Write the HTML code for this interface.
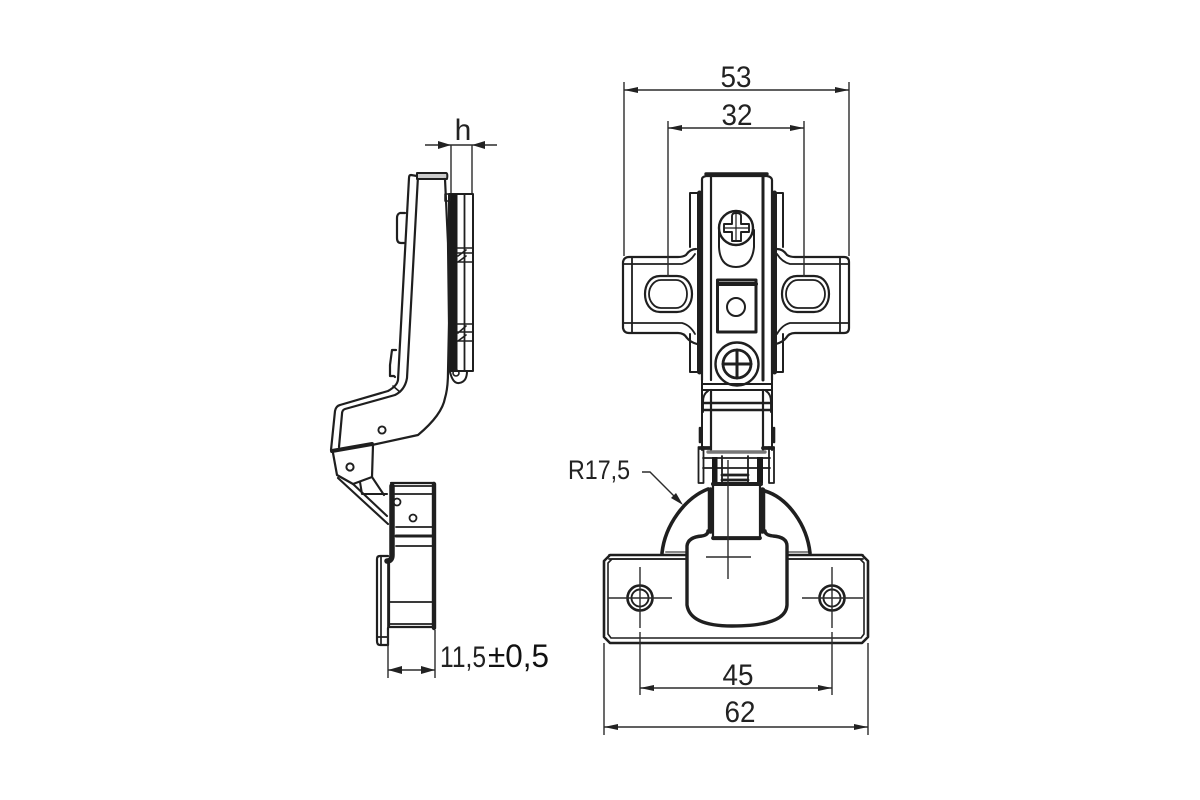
<!DOCTYPE html>
<html><head><meta charset="utf-8"><style>
html,body{margin:0;padding:0;background:#fff}
svg{display:block}
text{font-family:"Liberation Sans",sans-serif;fill:#222}
</style></head><body>
<svg width="1200" height="800" viewBox="0 0 1200 800" xmlns="http://www.w3.org/2000/svg">
<rect width="1200" height="800" fill="#fff"/>
<g fill="none" stroke="#1f1f1f" stroke-width="2.2" stroke-linejoin="round" stroke-linecap="round" style="filter:blur(.35px)">

<!-- LEFT VIEW -->
<path d="M417 176 L411 175 Q409 175 409 178 L398 380 Q397 386 388 391 L340 405 Q336 406 335 411 L331 450"/>
<path d="M418 176 L407 378 Q405 390 395 395 L345 409 Q342 410 342 414 L339 447"/>
<path d="M417 173 H446 Q448 173 447 179 H417 Z" stroke-width="2" fill="#ccc"/>
<path d="M445 179 L448 243 L449 323 L448 372 Q448 388 445 398 Q442 415 418 435 L372 445"/>
<path d="M393 386 L400 392" stroke-width="1.6"/>
<!-- bumps -->
<path d="M405 213 H400 Q397 214 397 218 V238 Q397 243 401 243 H404"/>
<path d="M396 350 H392 L390 365 V376 H394 L395 377"/>
<!-- slab -->
<rect x="449" y="194" width="24" height="177" stroke-width="2"/>
<rect x="450" y="194" width="7.500" height="177" fill="#1a1a1a" stroke="none"/>
<path d="M464.500 194 V371" stroke-width="1.800"/>
<path d="M457 248 H473 M457 253 H473 M457 262 H473 M457 324 H473 M457 332 H473 M457 341 H473 M458 256 L466 250 M458 262 L466 256 M458 333 L466 326 M458 341 L466 335" stroke-width="1.600"/>
<rect x="445" y="194" width="5" height="7" stroke-width="1.500"/>
<path d="M450 372 Q453 384 459 383 Q467 382 467 371" stroke-width="2"/>
<circle cx="456" cy="373" r="3" stroke-width="1.600"/>
<!-- pivot -->
<circle cx="382" cy="430" r="3.600" stroke-width="1.900"/>
<path d="M332 451 L372 444" stroke-width="4"/>
<path d="M333 453 L337 475 L353 484 L372 477 L373 445" stroke-width="2.200"/>
<circle cx="350" cy="467" r="3.600" stroke-width="2"/>
<path d="M338 478 L388 524 M360 482 L362 494 H387 M372 477 L384 495 M353 484 L387 516" stroke-width="2.100"/>
<!-- lower body -->
<path d="M391 483 H434 V627 H389 V560" stroke-width="2.200"/>
<path d="M434 484 V628" stroke-width="4.400"/>
<path d="M392 486 V555 Q392 561 387 561" stroke-width="5.500"/>
<path d="M394 486 H433 M395 494 H433 M396 527 H433 M396 546 H433 M389 602 H433 M389 624 H433" stroke-width="1.800"/>
<path d="M396 536 H433" stroke-width="3"/>
<circle cx="397" cy="502" r="3.500" stroke-width="1.800"/>
<circle cx="413" cy="518" r="3.500" stroke-width="1.800"/>
<path d="M388 556 H380 Q377 556 377 559 V641 Q377 645 380 645 H388 V628" stroke-width="2.200"/>
<path d="M381 556 V645 M377 637 H388 M388 560 V628" stroke-width="1.700"/>

<!-- FRONT VIEW top -->
<path d="M702 380 V179 Q702 177 706 176 H767 Q772 177 772 180 V380"/>
<path d="M706 174 H767" stroke-width="3.400"/>
<path d="M711 177 V380"/>
<path d="M763 177 V380" stroke-width="3"/>
<path d="M699.500 193 V372 M774.500 193 V372" stroke-width="5"/>
<path d="M697 193 H690 V247 M777 193 H783 V247 M690 334 V372 H697 M783 334 V372 H777" stroke-width="2"/>
<path d="M696 249 Q690 249 686 255 Q683 257 678 257 H629 Q624 257 623 262 V328 Q624 333 629 333 H678 Q684 333 687 338 Q690 342 697 344"/>
<path d="M777 249 Q783 249 787 255 Q790 257 795 257 H844 Q849 257 849 262 V328 Q849 333 844 333 H795 Q789 333 786 338 Q783 342 776 344"/>
<path d="M623 264 H682 Q690 262 695 254 M623 323 H682 Q690 325 695 334 M632 257 V333" stroke-width="1.800"/>
<path d="M849 264 H790 Q782 262 777 254 M849 323 H790 Q782 325 777 334 M840 257 V333" stroke-width="1.800"/>
<!-- slots -->
<path d="M660 276 H677 C687 276 692 285 692 294 C692 303 687 312 677 312 H660 C650 312 645 303 645 294 C645 285 650 276 660 276 Z"/>
<path d="M661 280 H676 C683 280 687 287 687 294 C687 301 683 308 676 308 H661 C654 308 649 301 649 294 C649 287 654 280 661 280 Z" stroke-width="1.800"/>
<path d="M797 276 H814 C824 276 829 285 829 294 C829 303 824 312 814 312 H797 C787 312 782 303 782 294 C782 285 787 276 797 276 Z"/>
<path d="M798 280 H813 C820 280 825 287 825 294 C825 301 820 308 813 308 H798 C791 308 786 301 786 294 C786 287 791 280 798 280 Z" stroke-width="1.800"/>
<!-- top screw -->
<path d="M719 230 V247 Q720 267 736 267 Q752 267 754 247 V230" stroke-width="2"/>
<circle cx="736" cy="228" r="17" fill="#fff" stroke-width="2.400"/>
<path d="M726 224 H732 V216 Q732 213 736 213 Q741 213 741 216 V224 H749 V232 H741 V241 H732 V232 H724 V224 Z" stroke-width="1.900"/>
<path d="M724 228 H749 M736 213 V241" stroke-width="1.200"/>
<!-- square -->
<rect x="717.500" y="280" width="38.500" height="52" stroke-width="3"/>
<path d="M718 284 H756" stroke-width="4"/>
<circle cx="736" cy="307" r="9" stroke-width="2"/>
<!-- bottom screw -->
<circle cx="737" cy="364" r="21.500" fill="#fff" stroke-width="2.400"/>
<circle cx="737" cy="364" r="14" stroke-width="2.800"/>
<path d="M737 350 V378 M723 364 H751" stroke-width="3"/>
<!-- neck -->
<path d="M702 384 H772 M703 390 H771" stroke-width="2"/>
<path d="M708 391 Q703 394 703 402 V412 M766 391 Q771 394 771 402 V412" stroke-width="1.900"/>
<path d="M702 380 V450 M772 380 V450" stroke-width="2"/>
<path d="M703 403 H771 M703 410 H771" stroke-width="2.400"/>
<path d="M711 390 V450 M763 390 V450" stroke-width="2.200"/>
<path d="M700 428 V442 M774 428 V442" stroke-width="2.600"/>
<path d="M708 452 H765" stroke="#777" stroke-width="3.400"/>
<path d="M700 448 H710 M763 448 H773" stroke-width="3.800"/>
<path d="M698.500 447 V483 H703.500 V447 M769 447 V483 H774 V447" stroke-width="1.800"/>
<path d="M703 458 H770 M703 468 H770" stroke-width="1.800"/>
<rect x="712" y="457" width="5.500" height="26" fill="#1a1a1a" stroke="none"/>
<rect x="757" y="457" width="6" height="26" fill="#1a1a1a" stroke="none"/>
<path d="M722 456 V483 M748 456 V483" stroke-width="1.800"/>
<path d="M722 475 H748 M722 480 H748" stroke-width="2.800"/>
<path d="M713 484 H761" stroke-width="4"/>
<!-- bottom plate -->
<path d="M610 555 H862 L868 561 V637 L862 643 H610 L604 637 V561 Z" stroke-width="2.600"/>
<path d="M612 559 H860 L864 563 V634 L861 638 H611 L608 634 V563 Z" stroke-width="1.600"/>
<path d="M666 552 H686 M786 552 H808" stroke="#888" stroke-width="2"/>
<!-- arc -->
<path d="M662 553 C665 525 685 498 708 489" stroke-width="3.600"/>
<path d="M765 491 C788 498 807 525 810 553" stroke-width="3.600"/>
<!-- cup -->
<path d="M708 531 Q708 535 702 536 Q688 537 687 546 V605 Q690 626 732 626 Q786 626 787 605 V546 Q787 537 773 536 Q765 535 765 531" fill="#fff" stroke-width="3.400"/>
<!-- lower neck -->
<path d="M713 485 V539 H760 V485" stroke-width="2.200"/>
<path d="M713 538 H760" stroke-width="3.800"/>
<path d="M710.500 490 V531 M762.500 490 V531" stroke-width="5.500"/>
<path d="M609 555 H686 M788 555 H863 M609 559 H686 M788 559 H863" stroke-width="1.800"/>
<!-- holes -->
<circle cx="640" cy="598" r="12.500" stroke-width="2.600"/>
<circle cx="640" cy="598" r="8.500" stroke-width="1.900"/>
<circle cx="832" cy="598" r="12.500" stroke-width="2.600"/>
<circle cx="832" cy="598" r="8.500" stroke-width="1.900"/>
</g>

<g fill="none" stroke="#2c2c2c" stroke-width="1.400" style="filter:blur(.3px)">
<path d="M640 567 V628 M608 598 H672 M832 567 V628 M802 598 H863"/>
<path d="M728 460 V579 M706 557 H751"/>
<path d="M640 632 V695 M832 632 V695 M604 643 V735 M868 643 V735"/>
<path d="M640 688 H832 M604 727 H868"/>
<path d="M624 82 V256 M849 82 V256 M668 121 V277 M804 121 V277"/>
<path d="M624 90 H849 M668 128 H804"/>
<path d="M451 145 V193 M472 145 V193 M425 145 H497"/>
<path d="M388 630 V678 M435 630 V678 M388 670 H435"/>
<path d="M642 472 H650 L680 502"/>
</g>

<g fill="#222" stroke="none" style="filter:blur(.3px)">
<path d="M624 90 L638 87 V93 Z M849 90 L835 87 V93 Z"/>
<path d="M668 128 L682 125 V131 Z M804 128 L790 125 V131 Z"/>
<path d="M640 688 L654 685 V691 Z M832 688 L818 685 V691 Z"/>
<path d="M604 727 L618 724 V730 Z M868 727 L854 724 V730 Z"/>
<path d="M451 145 L438 141 V149 Z M472 145 L485 141 V149 Z"/>
<path d="M388 670 L402 666 V674 Z M435 670 L421 666 V674 Z"/>
<path d="M683 505 L671 498 L676 493 Z"/>
</g>

<text x="736" y="87" font-size="30" text-anchor="middle" textLength="31" lengthAdjust="spacingAndGlyphs">53</text>
<text x="737" y="125" font-size="30" text-anchor="middle" textLength="31" lengthAdjust="spacingAndGlyphs">32</text>
<text x="463" y="140" font-size="30" text-anchor="middle">h</text>
<text x="738" y="685" font-size="30" text-anchor="middle" textLength="31" lengthAdjust="spacingAndGlyphs">45</text>
<text x="740" y="722" font-size="30" text-anchor="middle" textLength="31" lengthAdjust="spacingAndGlyphs">62</text>
<text x="568" y="479" font-size="27" textLength="62" lengthAdjust="spacingAndGlyphs">R17,5</text>
<text x="440" y="667" font-size="30" textLength="46" lengthAdjust="spacingAndGlyphs">11,5</text>
<text x="488" y="667" font-size="32" textLength="61" lengthAdjust="spacingAndGlyphs" style="fill:#111">±0,5</text>
</svg>
</body></html>
